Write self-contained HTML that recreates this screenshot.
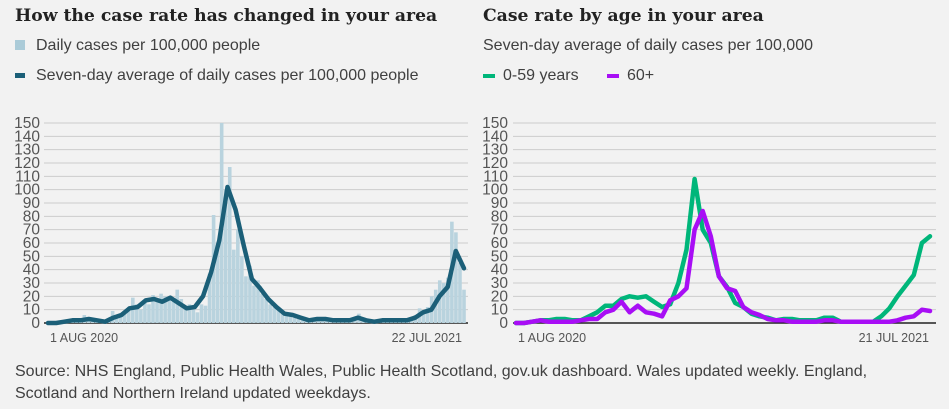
<!DOCTYPE html>
<html><head><meta charset="utf-8"><style>
body{margin:0;background:#f2f2f2;width:949px;height:409px;overflow:hidden;font-family:"Liberation Sans",sans-serif;color:#404040}
.t{position:absolute;font-family:"DejaVu Serif",serif;font-weight:bold;font-size:17.2px;color:#222}
.l{position:absolute;font-size:16px;color:#404040}
</style></head><body>
<div class="t" style="left:15px;top:6px">How the case rate has changed in your area</div>
<div class="t" style="left:483px;top:6px">Case rate by age in your area</div>
<div class="l" style="left:15px;top:37px"><span style="display:inline-block;width:10px;height:10px;background:#abcbd8;margin-right:11px"></span>Daily cases per 100,000 people</div>
<div class="l" style="left:15px;top:67px"><span style="display:inline-block;width:10px;height:5px;background:#1b5f78;margin-right:11px;vertical-align:middle"></span>Seven-day average of daily cases per 100,000 people</div>
<div class="l" style="left:483px;top:37px">Seven-day average of daily cases per 100,000</div>
<div class="l" style="left:483px;top:67px"><span style="display:inline-block;width:12px;height:4px;background:#00b67a;margin-right:8px;vertical-align:middle"></span>0-59 years</div>
<div class="l" style="left:607px;top:67px"><span style="display:inline-block;width:12px;height:4px;background:#a80ef5;margin-right:8px;vertical-align:middle"></span>60+</div>
<svg id="c" width="949" height="409" style="position:absolute;left:0;top:0"></svg>
<div class="l" style="left:15px;top:361px;line-height:22px;width:885px">Source: NHS England, Public Health Wales, Public Health Scotland, gov.uk dashboard. Wales updated weekly. England, Scotland and Northern Ireland updated weekdays.</div>
<script>
const ticks=[0,10,20,30,40,50,60,70,80,90,100,110,120,130,140,150];
const leftDates=["1 AUG 2020","22 JUL 2021"];
const rightDates=["1 AUG 2020","21 JUL 2021"];
const dailyBars=[0,0,1,1,2,3,2,2,3,6,3,4,3,2,1,2,9,4,6,8,12,19,14,10,16,14,21,18,22,20,18,16,25,18,12,14,10,8,14,13,37,81,60,150,100,117,55,70,50,35,43,28,32,22,18,14,12,10,8,7,5,4,3,3,2,3,3,2,3,2,2,2,2,1,2,2,3,7,3,2,1,1,2,2,2,2,2,2,3,3,4,6,11,9,12,20,25,32,30,34,76,68,45,25];
const sevenDay=[0,0,1,2,2,3,2,1,4,6,11,12,17,18,16,19,15,11,12,20,38,62,102,85,58,33,26,18,12,7,6,4,2,3,3,2,2,2,4,2,1,2,2,2,2,4,8,10,20,27,54,41];
const young=[0,0,1,2,2,3,3,2,2,5,8,13,13,18,20,19,20,16,12,14,30,55,108,70,60,35,27,15,12,7,5,4,2,3,3,2,2,2,4,4,1,1,1,1,1,5,11,20,28,36,60,65];
const older=[0,0,1,2,1,1,1,1,2,3,3,8,10,16,8,13,8,7,5,17,20,26,70,84,65,35,26,24,12,8,6,3,2,2,1,1,1,1,2,2,1,1,1,1,1,1,1,2,4,5,10,9];
const svg=document.getElementById('c');const NS='http://www.w3.org/2000/svg';
function mk(t,a){const e=document.createElementNS(NS,t);for(const k in a)e.setAttribute(k,a[k]);svg.appendChild(e);return e;}
const y=v=>323-v*200/150;
function axes(x0,x1,lx,dates,d0,d1,pfx){
 ticks.forEach(t=>{
  const g=mk('line',{x1:x0,x2:x1,y1:y(t),y2:y(t),stroke:t?'#cccccc':'#222','stroke-width':t?1:1.5});
  
  
  const tx=mk('text',{x:lx,y:y(t)+5,'text-anchor':'end','font-size':'15.5','fill':'#555','font-family':'Liberation Sans'});tx.textContent=t;
  
  
 });
 const a=mk('text',{x:d0,y:342,'font-size':'12.5','fill':'#555','font-family':'Liberation Sans'});a.textContent=dates[0];
 
 
 const b=mk('text',{x:d1,y:342,'text-anchor':'end','font-size':'12.5','fill':'#555','font-family':'Liberation Sans'});b.textContent=dates[1];
 
 
}
axes(44,468,40,leftDates,50,462,'left');
axes(513,936,508,rightDates,518,929,'right');
const LX0=48,LX1=464;
dailyBars.forEach((v,i)=>{const x=LX0+(LX1-LX0)*i/(dailyBars.length-1);
 const r=mk('rect',{x:x-1.8,y:y(v),width:3.6,height:323-y(v),fill:'#b9d3de'});
 
 });
function line(arr,x0,x1,col,name){const p=arr.map((v,i)=>(x0+(x1-x0)*i/(arr.length-1)).toFixed(1)+','+y(v).toFixed(1)).join(' ');
 const l=mk('polyline',{points:p,fill:'none',stroke:col,'stroke-width':4.5,'stroke-linejoin':'round','stroke-linecap':'round'});
 
 }
line(sevenDay,LX0,LX1,'#1b5f78','seven-day-average-line');
line(young,516,930,'#00b67a','age-0-59-line');
line(older,516,930,'#a80ef5','age-60-plus-line');
</script>
</body></html>
